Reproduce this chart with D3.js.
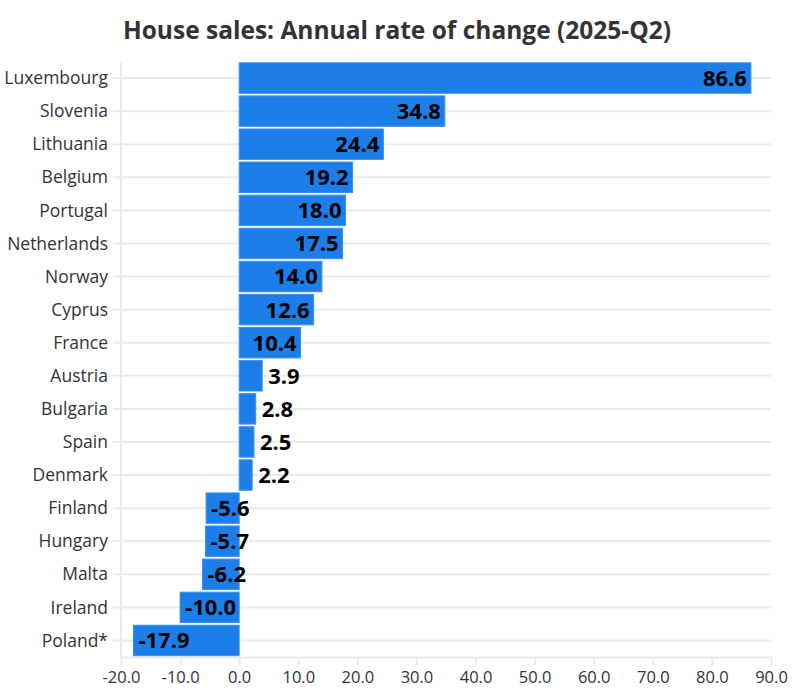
<!DOCTYPE html>
<html>
<head>
<meta charset="utf-8">
<script src="https://cdn.jsdelivr.net/npm/d3@7"></script>
<style>
  body { margin: 0; background: #fff; }
  svg { font-family: "Open Sans", "Noto Sans", sans-serif; }
</style>
</head>
<body>
<svg id="chart" width="798" height="694"></svg>
<script>
// Data
const countries = ["Luxembourg", "Slovenia", "Lithuania", "Belgium", "Portugal", "Netherlands",
    "Norway", "Cyprus", "France", "Austria", "Bulgaria", "Spain", "Denmark",
    "Finland", "Hungary", "Malta", "Ireland", "Poland*"];
const values = [86.6, 34.8, 24.4, 19.2, 18.0, 17.5, 14.0, 12.6, 10.4, 3.9, 2.8, 2.5, 2.2,
    -5.6, -5.7, -6.2, -10.0, -17.9];
const xTicks = [-20, -10, 0, 10, 20, 30, 40, 50, 60, 70, 80, 90];

const rows = countries.map((c, i) => ({ country: c, value: values[i] }));

// plain hyphen for negatives
const fmt = d3.formatLocale({ decimal: ".", thousands: ",", grouping: [3], currency: ["", ""], minus: "-" }).format(".1f");

// Layout
const svg = d3.select("#chart");
const margin = { top: 61.5, right: 27, bottom: 37, left: 121 };
const width = 798 - margin.left - margin.right;
const height = 694 - margin.top - margin.bottom;

const x = d3.scaleLinear().domain([-20, 90]).range([0, width]);
const y = d3.scaleBand().domain(countries).range([0, height]).paddingInner(0.08).paddingOuter(0.04);

const g = svg.append("g").attr("transform", `translate(${margin.left},${margin.top})`);

// Title
svg.append("text")
    .attr("x", 397)
    .attr("y", 39)
    .attr("text-anchor", "middle")
    .attr("font-size", 24.5)
    .attr("font-weight", "bold")
    .attr("fill", "#333")
    .text("House sales: Annual rate of change (2025-Q2)");

// Horizontal grid lines at each category
g.selectAll(".grid")
    .data(countries)
    .enter().append("line")
    .attr("class", "grid")
    .attr("x1", -8)
    .attr("x2", width)
    .attr("y1", d => y(d) + y.bandwidth() / 2)
    .attr("y2", d => y(d) + y.bandwidth() / 2)
    .attr("stroke", "#ebebeb")
    .attr("stroke-width", 2);

// Left axis line
g.append("line")
    .attr("x1", 0).attr("x2", 0)
    .attr("y1", 0).attr("y2", height)
    .attr("stroke", "#ebebeb")
    .attr("stroke-width", 2);

// X axis
const xAxis = g.append("g")
    .attr("transform", `translate(0,${height})`)
    .call(d3.axisBottom(x).tickValues(xTicks).tickFormat(fmt).tickSize(8).tickSizeOuter(0));
xAxis.select(".domain").attr("stroke", "#ebebeb").attr("stroke-width", 2);
xAxis.selectAll(".tick line").attr("stroke", "#ebebeb").attr("stroke-width", 2);
xAxis.selectAll(".tick text")
    .attr("font-size", 16.5)
    .attr("fill", "#333")
    .attr("font-family", "'Open Sans', sans-serif")
    .attr("dy", "0.9em");

// Category labels
g.selectAll(".cat")
    .data(countries)
    .enter().append("text")
    .attr("class", "cat")
    .attr("x", -13)
    .attr("y", d => y(d) + y.bandwidth() / 2)
    .attr("dy", "0.35em")
    .attr("text-anchor", "end")
    .attr("font-size", 17.5)
    .attr("fill", "#333")
    .text(d => d);

// Bars
g.selectAll(".bar")
    .data(rows)
    .enter().append("rect")
    .attr("class", "bar")
    .attr("x", d => x(Math.min(0, d.value)))
    .attr("width", d => Math.abs(x(d.value) - x(0)))
    .attr("y", d => y(d.country))
    .attr("height", y.bandwidth())
    .attr("fill", "#1c7fe9")
    .attr("stroke", "#3a90ee")
    .attr("stroke-width", 1);

// Value labels
g.selectAll(".val")
    .data(rows)
    .enter().append("text")
    .attr("class", "val")
    .attr("x", d => {
        if (d.value < 0) return x(d.value) + 5;
        if (d.value >= 10) return x(d.value) - 4;
        return x(d.value) + 6;
    })
    .attr("y", d => y(d.country) + y.bandwidth() / 2)
    .attr("dy", "0.36em")
    .attr("text-anchor", d => (d.value >= 10 ? "end" : "start"))
    .attr("font-size", 22)
    .attr("font-weight", "bold")
    .attr("fill", "#000")
    .text(d => fmt(d.value));
</script>
</body>
</html>
